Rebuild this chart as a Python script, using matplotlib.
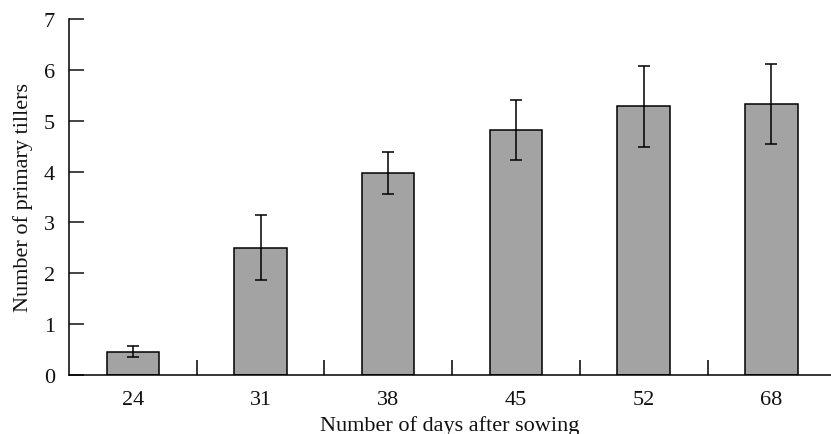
import matplotlib
matplotlib.use("Agg")
import matplotlib.pyplot as plt

days = ["24", "31", "38", "45", "52", "68"]
tillers = [0.46, 2.50, 3.97, 4.82, 5.28, 5.33]
errors = [0.11, 0.64, 0.42, 0.59, 0.80, 0.79]
yticks = [0, 1, 2, 3, 4, 5, 6, 7]

plt.rcParams['font.family'] = ['Liberation Serif', 'DejaVu Serif']

fig = plt.figure(figsize=(8.31, 4.35), dpi=100)
ax = fig.add_axes([69/831, 59/435, 762/831, 356/435])

x = list(range(len(days)))
ax.bar(x, tillers, width=0.41, color='#a3a3a3', edgecolor='black', linewidth=1.1, zorder=2)
ax.errorbar(x, tillers, yerr=errors, fmt='none', ecolor='black', elinewidth=1.1,
            capsize=4, capthick=1.1, zorder=3)

ax.set_xlim(-0.5, 5.467)
ax.set_ylim(0, 7)
ax.set_yticks(yticks)
ax.set_yticklabels([str(v) for v in yticks])
ax.set_xticks(x)
ax.set_xticklabels(days)
ax.set_xticks([i + 0.5 for i in range(len(days) - 1)], minor=True)

ax.tick_params(axis='x', which='major', length=0, pad=10.5, labelsize=16, colors='#111111')
ax.tick_params(axis='x', which='minor', direction='in', length=11, width=1.1)
ax.tick_params(axis='y', which='major', direction='in', length=11, width=1.1, pad=10,
               labelsize=16, colors='#111111')

for s in ['top', 'right']:
    ax.spines[s].set_visible(False)
for s in ['left', 'bottom']:
    ax.spines[s].set_linewidth(1.1)

ax.set_xlabel("Number of days after sowing", fontsize=16, labelpad=5, color='#111111')
ax.set_ylabel("Number of primary tillers", fontsize=16, labelpad=8, color='#111111')

fig.savefig("out.png", dpi=100)
